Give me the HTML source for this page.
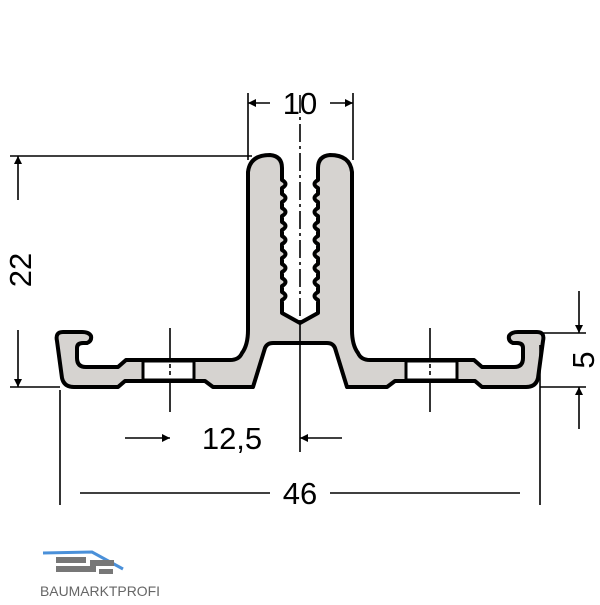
<!DOCTYPE html>
<html><head><style>html,body{margin:0;padding:0;background:#fff}</style></head><body>
<svg width="600" height="600" viewBox="0 0 600 600" xmlns="http://www.w3.org/2000/svg">
<defs>
<marker id="a" viewBox="0 0 10 10" refX="10" refY="5" markerWidth="12" markerHeight="8" markerUnits="userSpaceOnUse" orient="auto"><path d="M0,0 L10,5 L0,10 Z" fill="#000"/></marker>
</defs>
<path d="M300,323 L282,313 L282,300 q7,-4 0,-8 l0,-6 q7,-4 0,-8 l0,-6 q7,-4 0,-8 l0,-6 q7,-4 0,-8 l0,-6 q7,-4 0,-8 l0,-6 q7,-4 0,-8 l0,-6 q7,-4 0,-8 l0,-6 q7,-4 0,-8 l0,-6 q7,-4 0,-8 l0,-6 L282,168 Q282,156 270,155 Q250,155 248,172 L248,330 Q248,345 242,353 Q239,360 230,360 L126,360 L118,367 L86,367 Q77,367 77,358 L77,348 Q77,343 83,343 L87,343 Q92,341 91,336 Q89,332 82,332 L63,332 Q55,332 57,341 L62,378 Q64,387 74,387 L118,387 L125,381 L205,381 L213,387 L253,387 L265,348 Q267,343 273,343 L327,343 Q333,343 335,348 L347,387 L387,387 L395,381 L475,381 L482,387 L526,387 Q536,387 538,378 L543,341 Q545,332 537,332 L518,332 Q511,332 509,336 Q508,341 513,343 L517,343 Q523,343 523,348 L523,358 Q523,367 514,367 L482,367 L474,360 L370,360 Q361,360 358,353 Q352,345 352,330 L352,172 Q350,155 330,155 Q318,156 318,168 L318,174 l0,6 q-7,4 0,8 l0,6 q-7,4 0,8 l0,6 q-7,4 0,8 l0,6 q-7,4 0,8 l0,6 q-7,4 0,8 l0,6 q-7,4 0,8 l0,6 q-7,4 0,8 l0,6 q-7,4 0,8 l0,6 q-7,4 0,8 L318,313 Z" fill="#d6d3d0" stroke="#000" stroke-width="4" stroke-linejoin="round"/>
<rect x="143" y="361" width="51" height="19" fill="#fff" stroke="#000" stroke-width="3"/>
<rect x="406" y="361" width="51" height="19" fill="#fff" stroke="#000" stroke-width="3"/>
<g stroke="#000" stroke-width="1.6" fill="none">
<line x1="300" y1="95" x2="300" y2="322" stroke-dasharray="18,4,3,4"/>
<line x1="300" y1="322" x2="300" y2="452"/>
<line x1="170" y1="328" x2="170" y2="360"/><line x1="170" y1="381" x2="170" y2="412"/>
<line x1="430" y1="328" x2="430" y2="360"/><line x1="430" y1="381" x2="430" y2="412"/>
<line x1="170" y1="364" x2="170" y2="377" stroke-dasharray="4,3"/>
<line x1="430" y1="364" x2="430" y2="377" stroke-dasharray="4,3"/>
<line x1="248" y1="93" x2="248" y2="160"/><line x1="353" y1="93" x2="353" y2="160"/>
<line x1="10" y1="156" x2="252" y2="156"/>
<line x1="10" y1="387" x2="60" y2="387"/>
<line x1="18" y1="200" x2="18" y2="156" marker-end="url(#a)"/>
<line x1="18" y1="330" x2="18" y2="387" marker-end="url(#a)"/>
<line x1="270" y1="103" x2="248" y2="103" marker-end="url(#a)"/>
<line x1="330" y1="103" x2="353" y2="103" marker-end="url(#a)"/>
<line x1="540" y1="333" x2="586" y2="333"/>
<line x1="540" y1="387" x2="586" y2="387"/>
<line x1="579" y1="291" x2="579" y2="333" marker-end="url(#a)"/>
<line x1="579" y1="429" x2="579" y2="387" marker-end="url(#a)"/>
<line x1="125" y1="438" x2="170" y2="438" marker-end="url(#a)"/>
<line x1="342" y1="438" x2="300" y2="438" marker-end="url(#a)"/>
<line x1="60" y1="390" x2="60" y2="505"/><line x1="540" y1="345" x2="540" y2="505"/>
<line x1="80" y1="493" x2="270" y2="493"/><line x1="330" y1="493" x2="520" y2="493"/>
</g>
<g font-family="Liberation Sans, sans-serif" font-size="31" fill="#000" text-anchor="middle">
<text x="300" y="114">10</text>
<text x="232" y="449">12,5</text>
<text x="300" y="504">46</text>
<text transform="translate(31,270) rotate(-90)">22</text>
<text transform="translate(594,360) rotate(-90)">5</text>
</g>
<path d="M43,553 L92,552 L123,569" stroke="#4a90d9" stroke-width="3" fill="none"/>
<rect x="56" y="557" width="30" height="6" fill="#777"/>
<rect x="90" y="560" width="24" height="6" fill="#777"/>
<rect x="56" y="566" width="40" height="6" fill="#777"/>
<rect x="99" y="569" width="14" height="5" fill="#777"/>
<text x="40" y="596" font-family="Liberation Sans, sans-serif" font-size="14" fill="#666" textLength="120" lengthAdjust="spacingAndGlyphs">BAUMARKTPROFI</text>
</svg>
</body></html>
